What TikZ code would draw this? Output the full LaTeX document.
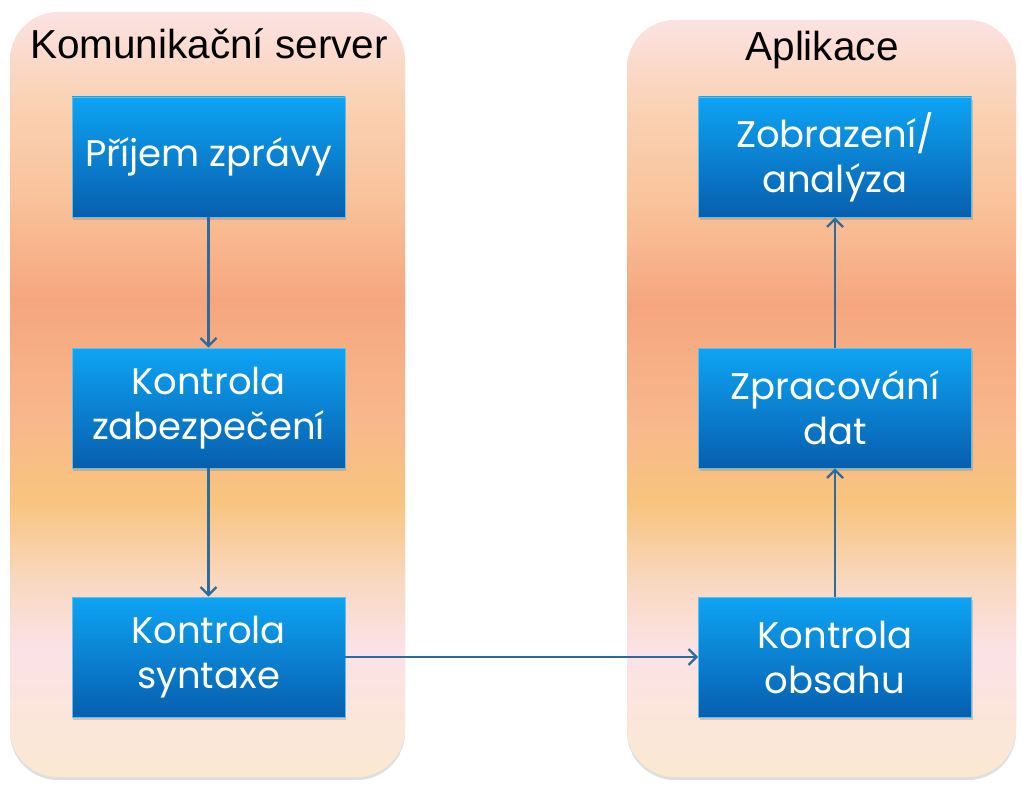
\documentclass[tikz,border=0pt]{standalone}
\usepackage{fontspec}
\setmainfont{Liberation Sans}
\newfontfamily\boxfont{Poppins}
\usetikzlibrary{arrows.meta,shadows}
\definecolor{arrowc}{HTML}{2F6B98}
\definecolor{boxtop}{HTML}{0EA4F4}
\definecolor{boxbot}{HTML}{075EAE}
\definecolor{boxedge}{HTML}{5AC0F0}
\definecolor{pA}{HTML}{FBE2E2}
\definecolor{pB}{HTML}{FAD2B4}
\definecolor{pC}{HTML}{F9C29A}
\definecolor{pD}{HTML}{F6A67E}
\definecolor{pE}{HTML}{F8B88C}
\definecolor{pF}{HTML}{F8C47E}
\definecolor{pG}{HTML}{F9D8C0}
\definecolor{pH}{HTML}{FBE2E6}
\definecolor{pI}{HTML}{FBE8D2}
\pgfdeclareverticalshading{panelshade}{100bp}{%
  color(0bp)=(pI); color(25.5bp)=(pI); color(33.3bp)=(pH); color(37.9bp)=(pG);
  color(43.1bp)=(pF); color(48.3bp)=(pE); color(56.2bp)=(pD); color(62.7bp)=(pC);
  color(69.2bp)=(pB); color(75bp)=(pA); color(100bp)=(pA)}
\tikzset{
  panel/.style={shading=panelshade, rounded corners=48pt,
    drop shadow={opacity=0.25, shadow xshift=0pt, shadow yshift=-3pt}},
  stepbox/.style={draw=boxedge, line width=0.6pt, top color=boxtop, bottom color=boxbot,
    minimum width=273pt, minimum height=120pt, inner sep=0pt,
    text=white, align=center, font=\boxfont\fontsize{37}{45}\selectfont,
    drop shadow={opacity=0.35, shadow xshift=1pt, shadow yshift=-3pt}},
  conn/.style={draw=arrowc, line width=2.6pt, -{Straight Barb[length=8pt,width=16pt,line width=2.4pt]}},
  paneltitle/.style={font=\fontsize{40.5}{44}\selectfont, text=black, inner sep=0pt}
}
\begin{document}
\begin{tikzpicture}[x=1pt,y=-1pt]
\useasboundingbox (0,0) rectangle (1022,791);
\fill[white] (0,0) rectangle (1022,791);
\shade[panel] (10,12) rectangle (405,777);
\shade[panel] (627,20) rectangle (1016,777);
\node[paneltitle] (t1) at (209,44) {Komunikační server};
\node[paneltitle] (t2) at (822,50) {Aplikace};
\node[stepbox] (a1) at (208.5,157) {Příjem zprávy};
\node[stepbox] (a2) at (208.5,408) {Kontrola\\zabezpečení};
\node[stepbox] (a3) at (208.5,657) {Kontrola\\syntaxe};
\node[stepbox] (b1) at (835,157) {Zobrazení/\\analýza};
\node[stepbox] (b2) at (835,408) {Zpracování\\dat};
\node[stepbox] (b3) at (835,657) {Kontrola\\obsahu};
\draw[conn] (a1) -- (a2);
\draw[conn] (a2) -- (a3);
\draw[conn] (a3) -- (b3);
\draw[conn] (b3) -- (b2);
\draw[conn] (b2) -- (b1);
\end{tikzpicture}
\end{document}
